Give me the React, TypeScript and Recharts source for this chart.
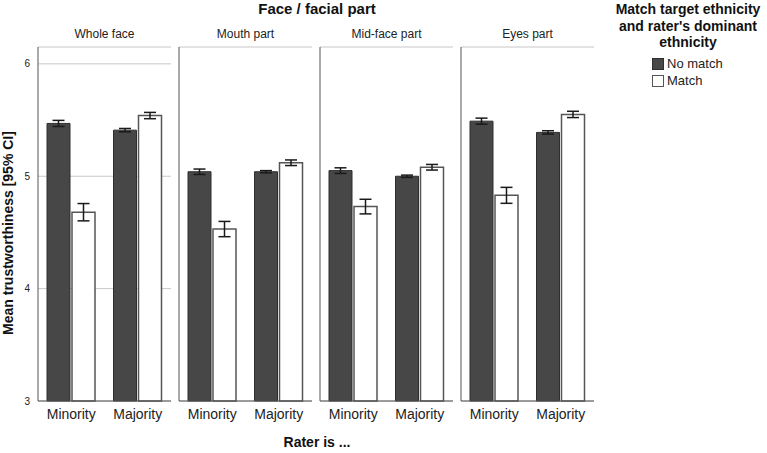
import React from "react";
import { Bar, BarChart, CartesianGrid, ErrorBar, XAxis, YAxis } from "recharts";

const panels = ["Whole face", "Mouth part", "Mid-face part", "Eyes part"];
const raters = ["Minority", "Majority"];

// mean trustworthiness per panel, [Minority, Majority]
const noMatch = [
  [5.47, 5.41],
  [5.04, 5.04],
  [5.05, 5.0],
  [5.49, 5.39],
];
const match = [
  [4.68, 5.54],
  [4.53, 5.12],
  [4.73, 5.08],
  [4.83, 5.55],
];
// half widths of the 95% CI
const noMatchCI = [
  [0.027, 0.015],
  [0.024, 0.01],
  [0.025, 0.01],
  [0.027, 0.015],
];
const matchCI = [
  [0.077, 0.028],
  [0.068, 0.025],
  [0.065, 0.025],
  [0.071, 0.028],
];

const yTicks = [3, 4, 5, 6];
const font = "'Liberation Sans', Arial, sans-serif";

const PLOT_LEFT = 38;
const PLOT_W = 133;
const PITCH = 141;

function Panel({ idx }: { idx: number }) {
  const data = raters.map((r, i) => ({
    rater: r,
    noMatch: noMatch[idx][i],
    match: match[idx][i],
    noMatchErr: noMatchCI[idx][i],
    matchErr: matchCI[idx][i],
  }));
  const first = idx === 0;
  const axisW = first ? PLOT_LEFT : 5;
  const left = PLOT_LEFT + PITCH * idx - axisW;
  return (
    <div style={{ position: "absolute", left, top: 0 }}>
      <BarChart
        width={axisW + PLOT_W}
        height={431}
        data={data}
        margin={{ top: 47, right: 0, bottom: 0, left: 0 }}
        barSize={23}
        barGap={2}
      >
        <CartesianGrid vertical={false} stroke="#c8c8c8" />
        <XAxis
          dataKey="rater"
          height={30}
          tickLine={false}
          axisLine={{ stroke: "#555" }}
          tick={{ fontSize: 14, fill: "#222", fontFamily: font }}
        />
        <YAxis
          width={axisW}
          domain={[3, 6.15]}
          ticks={yTicks}
          tickLine={false}
          axisLine={{ stroke: "#555" }}
          tick={first ? { fontSize: 10, fill: "#222", fontFamily: font } : false}
        />
        <Bar dataKey="noMatch" fill="#474747" stroke="#2e2e2e" isAnimationActive={false}>
          <ErrorBar dataKey="noMatchErr" width={6} stroke="#1a1a1a" strokeWidth={1.5} />
        </Bar>
        <Bar dataKey="match" fill="#ffffff" stroke="#555" strokeWidth={1.5} isAnimationActive={false}>
          <ErrorBar dataKey="matchErr" width={6} stroke="#1a1a1a" strokeWidth={1.5} />
        </Bar>
      </BarChart>
      <div
        style={{
          position: "absolute",
          left: axisW,
          top: 27,
          width: PLOT_W,
          textAlign: "center",
          fontSize: 12,
          color: "#222",
          fontFamily: font,
        }}
      >
        {panels[idx]}
      </div>
    </div>
  );
}

export default function App() {
  const bold = { fontFamily: font, fontWeight: 700, fontSize: 14, color: "#111" } as const;
  return (
    <div style={{ position: "absolute", left: 0, top: 0, width: 767, height: 453, background: "#fff", overflow: "hidden" }}>
      {panels.map((_, i) => (
        <Panel key={i} idx={i} />
      ))}
      <div style={{ ...bold, fontSize: 15, position: "absolute", left: 217, width: 200, top: 0, textAlign: "center" }}>
        Face / facial part
      </div>
      <div style={{ ...bold, position: "absolute", left: 217, width: 200, top: 434, textAlign: "center" }}>
        Rater is ...
      </div>
      <div
        style={{
          ...bold,
          position: "absolute",
          left: 8,
          top: 233,
          width: 260,
          textAlign: "center",
          transform: "translate(-50%, -50%) rotate(-90deg)",
        }}
      >
        Mean trustworthiness [95% CI]
      </div>
      <div
        style={{
          ...bold,
          position: "absolute",
          left: 608,
          width: 160,
          top: 1,
          textAlign: "center",
          lineHeight: "16.5px",
        }}
      >
        Match target ethnicity
        <br />
        and rater's dominant
        <br />
        ethnicity
      </div>
      {[
        { label: "No match", fill: "#474747", stroke: "#2e2e2e" },
        { label: "Match", fill: "#fff", stroke: "#555" },
      ].map((it, i) => (
        <div
          key={it.label}
          style={{
            position: "absolute",
            left: 652,
            top: 56 + i * 17,
            display: "flex",
            alignItems: "center",
            fontFamily: font,
            fontSize: 13,
            color: "#222",
          }}
        >
          <span
            style={{
              display: "inline-block",
              width: 10,
              height: 10,
              background: it.fill,
              border: `1px solid ${it.stroke}`,
              marginRight: 3,
            }}
          />
          {it.label}
        </div>
      ))}
    </div>
  );
}
